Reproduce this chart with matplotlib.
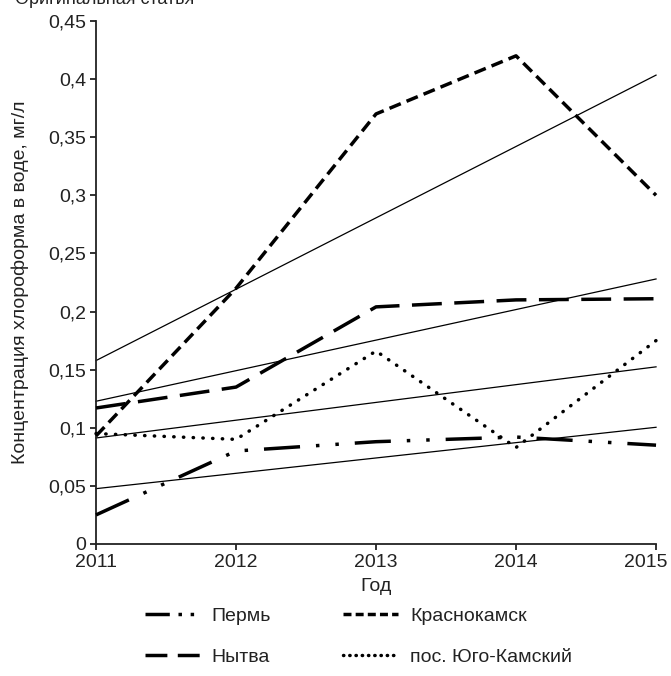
import numpy as np
import matplotlib.pyplot as plt
import matplotlib.transforms as mtransforms
from matplotlib.lines import Line2D

plt.rcParams['font.family'] = ['Liberation Sans', 'DejaVu Sans']

# Концентрация хлороформа, мг/л
years = [2011, 2012, 2013, 2014, 2015]
perm = [0.025, 0.080, 0.088, 0.092, 0.085]
krasnokamsk = [0.093, 0.220, 0.370, 0.420, 0.300]
nytva = [0.117, 0.135, 0.204, 0.210, 0.211]
yugo_kamsky = [0.095, 0.090, 0.166, 0.083, 0.175]
ytick_labels = ['0', '0,05', '0,1', '0,15', '0,2', '0,25', '0,3',
                '0,35', '0,4', '0,45']

# название, данные, штрих на графике, штрих в легенде, концы штрихов
series = [
    ('Пермь', perm, (0, (10.4, 4.6, 1.0, 4.6, 1.0, 4.6)),
     (0, (7, 2.5, 1, 2.5, 1, 3)), 'butt'),
    ('Краснокамск', krasnokamsk, (0, (3.5, 1.8)), (0, (2.3, 1.2)), 'butt'),
    ('Нытва', nytva, (0, (8.6, 3.6)), (0, (6.3, 3.0)), 'butt'),
    ('пос. Юго-Камский', yugo_kamsky, (0, (0.1, 2.7)), (0, (0.1, 1.7)),
     'round'),
]

FS = 14
TXT = '#222222'

fig = plt.figure(figsize=(6.71, 6.76), dpi=100)
ax = fig.add_axes([0.1431, 0.1953, 0.8346, 0.7737])

x = np.array(years)
handles = {}
for name, vals, ls, leg_ls, cap in series:
    ax.plot(years, vals, color='black', lw=2.5, linestyle=ls,
            dash_capstyle=cap, clip_on=False, zorder=3)
    # линейный тренд
    k, b = np.polyfit(x - 2011, vals, 1)
    ax.plot(years, k * (x - 2011) + b, color='black', lw=0.9,
            clip_on=False, zorder=2)
    handles[name] = Line2D([], [], color='black', lw=2.5, linestyle=leg_ls,
                           dash_capstyle=cap)

ax.set_xlim(2011, 2015)
ax.set_ylim(0, 0.45)
ax.set_xticks(years)
ax.set_yticks(np.arange(0, 0.451, 0.05))
ax.set_yticklabels(ytick_labels)
for s in ['top', 'right']:
    ax.spines[s].set_visible(False)
for s in ['left', 'bottom']:
    ax.spines[s].set_linewidth(1.3)
    ax.spines[s].set_color(TXT)
ax.tick_params(direction='out', length=4.5, width=1.3, color=TXT,
               labelsize=FS, labelcolor=TXT, pad=2.5)

# подпись последнего года чуть левее, чтобы не обрезалась
last = ax.get_xticklabels()[-1]
last.set_transform(last.get_transform() + mtransforms.ScaledTranslation(
    -10 / 100, 0, fig.dpi_scale_trans))

ax.set_xlabel('Год', fontsize=FS, color=TXT, labelpad=5)
ax.set_ylabel('Концентрация хлороформа в воде, мг/л', fontsize=FS,
              color=TXT, labelpad=14)

order = ['Пермь', 'Нытва', 'Краснокамск', 'пос. Юго-Камский']
fig.legend([handles[n] for n in order], order,
           loc='upper center', bbox_to_anchor=(0.534, 0.128), ncol=2,
           frameon=False, fontsize=FS, handlelength=2.85, columnspacing=3.7,
           labelspacing=1.2, handletextpad=0.6, labelcolor=TXT)

fig.text(0.022, 0.994, 'Оригинальная статья', fontsize=13, color=TXT,
         va='baseline')

fig.savefig('out.png', dpi=100)
